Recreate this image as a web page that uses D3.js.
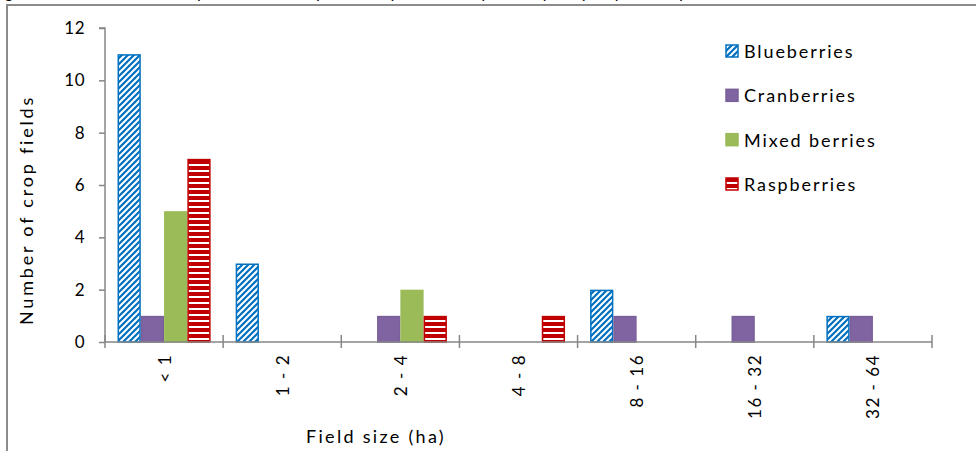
<!DOCTYPE html>
<html>
<head>
<meta charset="utf-8">
<script src="https://cdn.jsdelivr.net/npm/d3@7"></script>
<style>
  html, body { margin: 0; padding: 0; background: #fff; overflow: hidden; }
  svg { display: block; font-family: Lato, "Open Sans", sans-serif; }
</style>
</head>
<body>
<svg id="chart" width="976" height="451"></svg>
<script>
const categories = ["< 1", "1 - 2", "2 - 4", "4 - 8", "8 - 16", "16 - 32", "32 - 64"];
const seriesNames = ["Blueberries", "Cranberries", "Mixed berries", "Raspberries"];
const blueberries = [11, 3, 0, 0, 2, 0, 1];
const cranberries = [1, 0, 1, 0, 1, 1, 1];
const mixedBerries = [5, 0, 2, 0, 0, 0, 0];
const raspberries = [7, 0, 1, 1, 0, 0, 0];
const yTicks = [0, 2, 4, 6, 8, 10, 12];
const titleText = "Figure 2. Number of blueberry, saskatoon berry, cranberry, mixed berry and raspberry crop fields by size";

const seriesValues = [blueberries, cranberries, mixedBerries, raspberries];

const svg = d3.select("#chart");
const margin = { left: 105, right: 976 - 932, top: 28, bottom: 451 - 342 };
const W = 976, H = 451;

// defs: patterns
const defs = svg.append("defs");
const pBlue = defs.append("pattern").attr("id", "pBlue")
  .attr("patternUnits", "userSpaceOnUse").attr("width", 6).attr("height", 6);
pBlue.append("rect").attr("width", 6).attr("height", 6).attr("fill", "#0070C0");
pBlue.append("path").attr("d", "M-1,7 L7,-1 M-4,4 L4,-4 M2,10 L10,2")
  .attr("stroke", "#fff").attr("stroke-width", 2);
const pRed = defs.append("pattern").attr("id", "pRed")
  .attr("patternUnits", "userSpaceOnUse").attr("width", 6).attr("height", 6);
pRed.append("rect").attr("width", 6).attr("height", 6).attr("fill", "#C00000");
pRed.append("rect").attr("y", 2).attr("width", 6).attr("height", 2).attr("fill", "#fff");

const fills = ["url(#pBlue)", "#8064A2", "#9BBB59", "url(#pRed)"];
const strokes = ["#0070C0", "#7A5F99", "#9BBB59", "#C00000"];

// partial title (cut off at top)
svg.append("text").attr("x", -8).attr("y", -2)
  .attr("font-size", 16).attr("fill", "#000").text(titleText);

// outer chart border
svg.append("path").attr("d", `M7,${H + 2} L7,5 L${W + 2},5`)
  .attr("fill", "none").attr("stroke", "#8c8c8c").attr("stroke-width", 2);

const x = d3.scaleBand().domain(categories).range([margin.left, W - margin.right]);
const y = d3.scaleLinear().domain([0, 12]).range([H - margin.bottom, margin.top]);

const bw = x.bandwidth() * 0.197;
const groupOff = (x.bandwidth() - 4 * bw) / 2;
const xs = d3.scaleBand().domain(seriesNames).range([groupOff, groupOff + 4 * bw]);

// bars
seriesNames.forEach((name, si) => {
  svg.append("g").selectAll("rect")
    .data(categories.map((c, i) => ({ c, v: seriesValues[si][i] })).filter(d => d.v > 0))
    .join("rect")
    .attr("x", d => x(d.c) + xs(name) + 0.75)
    .attr("y", d => y(d.v) + 0.75)
    .attr("width", xs.bandwidth() - 1.5)
    .attr("height", d => y(0) - y(d.v) - 0.75)
    .attr("fill", fills[si])
    .attr("stroke", strokes[si])
    .attr("stroke-width", 1.5);
});

// y axis
const yAxis = d3.axisLeft(y).tickValues(yTicks).tickSize(6).tickPadding(14);
const gy = svg.append("g").attr("transform", `translate(${margin.left},0)`).call(yAxis);
gy.select(".domain").attr("stroke", "#868686").attr("stroke-width", 1.5).attr("d", `M-6,${y(12)}H0V${y(0)}`);
gy.selectAll(".tick line").attr("stroke", "#868686").attr("stroke-width", 1.5);
gy.selectAll(".tick text").attr("font-size", 17).attr("fill", "#000")
  .attr("letter-spacing", 0.5)
  .attr("font-family", "Lato, 'Open Sans', sans-serif");

// x axis
const xAxis = d3.axisBottom(x).tickSize(0).tickPadding(0);
const gx = svg.append("g").attr("transform", `translate(0,${y(0)})`).call(xAxis);
gx.select(".domain").attr("stroke", "#868686").attr("stroke-width", 1.5)
  .attr("d", `M${margin.left},0H${W - margin.right}`);
gx.selectAll(".tick text")
  .attr("font-size", 17).attr("fill", "#000")
  .attr("letter-spacing", 1.5)
  .attr("font-family", "Lato, 'Open Sans', sans-serif")
  .attr("text-anchor", "end")
  .attr("dy", null)
  .attr("transform", "translate(0,12) rotate(-90)")
  .attr("x", 0).attr("y", 0)
  .attr("dominant-baseline", "central");
// category boundary tick marks
const bounds = categories.map(c => x(c)).concat([W - margin.right]);
gx.append("g").selectAll("line").data(bounds).join("line")
  .attr("x1", d => d).attr("x2", d => d).attr("y1", -7).attr("y2", 6)
  .attr("stroke", "#868686").attr("stroke-width", 1.5);

// axis titles
svg.append("text").attr("transform", "translate(33,210) rotate(-90)")
  .attr("text-anchor", "middle").attr("font-size", 18).attr("fill", "#000")
  .attr("letter-spacing", 2.8)
  .text("Number of crop fields");
svg.append("text").attr("x", 376).attr("y", 443)
  .attr("text-anchor", "middle").attr("font-size", 18).attr("fill", "#000")
  .attr("letter-spacing", 2.3)
  .text("Field size (ha)");

// legend
const legY = d3.scalePoint().domain(seriesNames).range([51, 184]);
const leg = svg.append("g");
seriesNames.forEach((name, si) => {
  const cy = legY(name);
  leg.append("rect").attr("x", 726).attr("y", cy - 6).attr("width", 12).attr("height", 12)
    .attr("fill", fills[si]).attr("stroke", strokes[si]).attr("stroke-width", 1.5);
  leg.append("text").attr("x", 744).attr("y", cy).attr("dominant-baseline", "central")
    .attr("font-size", 18).attr("letter-spacing", 1.9).attr("fill", "#000").text(name);
});
</script>
</body>
</html>
